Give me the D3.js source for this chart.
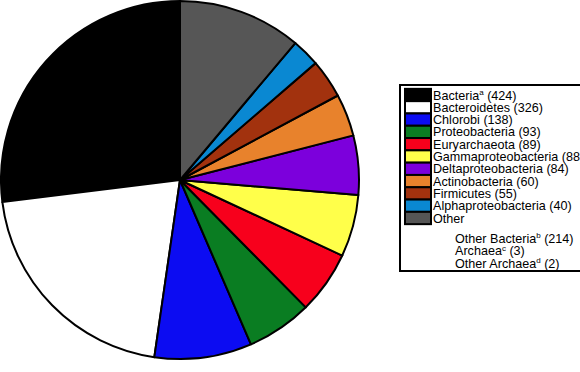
<!DOCTYPE html>
<html lang="en">
<head>
    <meta charset="utf-8">
    <title>Pie</title>
    <script src="https://d3js.org/d3.v7.min.js"></script>
    <style>
        html, body {
            margin: 0;
            padding: 0;
            background: #fff;
        }
        text {
            font-family: "Liberation Sans", Arial, sans-serif;
            font-size: 12.6px;
        }
    </style>
</head>
<body>
<script type="text/javascript">

    // legend order (pie runs counterclockwise from 12 o'clock in this order)
    var names = ["Bacteria", "Bacteroidetes", "Chlorobi", "Proteobacteria", "Euryarchaeota",
        "Gammaproteobacteria", "Deltaproteobacteria", "Actinobacteria", "Firmicutes",
        "Alphaproteobacteria", "Other"];
    var sups = ["a", "", "", "", "", "", "", "", "", "", ""];
    var counts = [424, 326, 138, 93, 89, 88, 84, 60, 55, 40, null];
    // slice sizes as drawn (the gray "Other" slice)
    var sliceValues = [424, 326, 138, 93, 89, 88, 84, 60, 55, 40, 175];
    var colors = ["#000000", "#ffffff", "#0c0cf2", "#0a7d22", "#f7001c", "#ffff4a",
        "#7c00dc", "#e8822c", "#a2320e", "#0a88d2", "#565656"];

    var subNames = ["Other Bacteria", "Archaea", "Other Archaea"];
    var subSups = ["b", "c", "d"];
    var subCounts = [214, 3, 2];

    var w = 580, h = 372;
    var cx = 180, cy = 180, r = 179;

    var svg = d3.select("body").append("svg")
        .attr("width", w)
        .attr("height", h);

    var pie = d3.pie()
        .sort(null)
        .startAngle(2 * Math.PI)
        .endAngle(0);

    var arc = d3.arc().innerRadius(0).outerRadius(r);

    svg.append("g")
        .attr("transform", "translate(" + cx + "," + cy + ")")
        .selectAll("path")
        .data(pie(sliceValues))
        .enter().append("path")
        .attr("d", arc)
        .attr("fill", function(d, i) { return colors[i]; })
        .attr("stroke", "#000")
        .attr("stroke-width", 2)
        .attr("stroke-linejoin", "round");

    // legend
    var lx = 400, ly = 85, step = 12.3;
    var leg = svg.append("g");

    leg.append("rect")
        .attr("x", lx)
        .attr("y", ly)
        .attr("width", 200)
        .attr("height", 186)
        .attr("fill", "#fff")
        .attr("stroke", "#000")
        .attr("stroke-width", 2);

    var rowY = d3.scaleLinear().domain([0, 1]).range([ly + 10, ly + 10 + step]);

    leg.selectAll("rect.sw")
        .data(names)
        .enter().append("rect")
        .attr("class", "sw")
        .attr("x", lx + 5)
        .attr("y", function(d, i) { return rowY(i) - step / 2; })
        .attr("width", 26)
        .attr("height", step)
        .attr("fill", function(d, i) { return colors[i]; })
        .attr("stroke", "#000")
        .attr("stroke-width", 2);

    function addLabel(sel) {
        sel.append("tspan").text(function(d) { return d.name; });
        sel.append("tspan")
            .attr("font-size", "8px")
            .attr("dy", function(d) { return d.sup ? -4.5 : 0; })
            .text(function(d) { return d.sup; });
        sel.append("tspan")
            .attr("dy", function(d) { return d.sup ? 4.5 : 0; })
            .text(function(d) { return d.count == null ? "" : " (" + d.count + ")"; });
    }

    leg.selectAll("text.lab")
        .data(names.map(function(n, i) { return {name: n, sup: sups[i], count: counts[i]}; }))
        .enter().append("text")
        .attr("class", "lab")
        .attr("x", lx + 33)
        .attr("y", function(d, i) { return rowY(i) + 4.5; })
        .call(addLabel);

    var subY = d3.scaleLinear().domain([0, 1]).range([ly + 153, ly + 165.5]);

    leg.selectAll("text.sub")
        .data(subNames.map(function(n, i) { return {name: n, sup: subSups[i], count: subCounts[i]}; }))
        .enter().append("text")
        .attr("class", "sub")
        .attr("x", lx + 55)
        .attr("y", function(d, i) { return subY(i) + 4.5; })
        .call(addLabel);

</script>
</body>
</html>
